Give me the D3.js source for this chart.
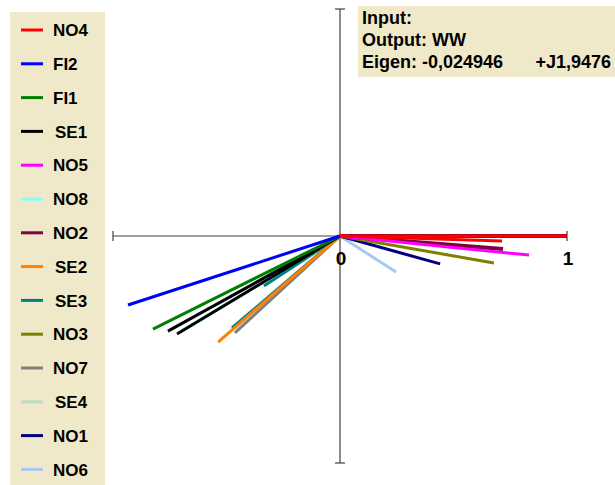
<!DOCTYPE html>
<html>
<head>
<meta charset="utf-8">
<script src="https://cdn.jsdelivr.net/npm/d3@7"></script>
<style>
  body { margin: 0; background: #fff; }
  text { font-family: "Liberation Sans", Arial, sans-serif; font-weight: bold; }
</style>
</head>
<body>
<script>
const width = 615;
const height = 485;

// series names and colours, legend order
const names = ['NO4', 'FI2', 'FI1', 'SE1', 'NO5', 'NO8', 'NO2', 'SE2', 'SE3', 'NO3', 'NO7', 'SE4', 'NO1', 'NO6'];
const colors = ['#ff0000', '#0000ff', '#008000', '#000000', '#ff00ff', '#80ffff', '#800040',
  '#ff8000', '#008080', '#808000', '#808080', '#c0dcc0', '#000080', '#a6caf0'];

// vector end points (re, im) for each series
const vectors = [
  [[1.0, 0.0], [0.714, -0.022]],          // NO4
  [[-0.934, -0.304]],                     // FI2
  [[-0.824, -0.410]],                     // FI1
  [[-0.758, -0.419], [-0.718, -0.432]],   // SE1
  [[0.833, -0.084]],                      // NO5
  [[-0.705, -0.422]],                     // NO8
  [[1.0, 0.0], [0.718, -0.057]],          // NO2
  [[-0.537, -0.467]],                     // SE2
  [[-0.335, -0.220], [-0.476, -0.405]],   // SE3
  [[0.678, -0.119]],                      // NO3
  [[-0.463, -0.427]],                     // NO7
  [[-0.455, -0.415]],                     // SE4
  [[0.441, -0.123]],                      // NO1
  [[0.247, -0.159]]                       // NO6
];

const xTicks = ['0', '1'];
const infoLines = ['Input:', 'Output: WW', 'Eigen: -0,024946'];
const infoImag = '+J1,9476';

const svg = d3.select('body').append('svg')
  .attr('width', width)
  .attr('height', height);

const x = d3.scaleLinear().domain([-1, 1]).range([113, 567]);
const y = d3.scaleLinear().domain([-1, 1]).range([463, 9]);

// legend panel
svg.append('rect')
  .attr('x', 10).attr('y', 12)
  .attr('width', 95).attr('height', 480)
  .attr('fill', '#f0e9c9');

const legend = svg.append('g').selectAll('g')
  .data(names)
  .enter().append('g')
    .attr('transform', (d, i) => `translate(0, ${30 + i * 33.8})`);

legend.append('line')
  .attr('x1', 21).attr('x2', 43)
  .attr('stroke', (d, i) => colors[i])
  .attr('stroke-width', 3);

legend.append('text')
  .attr('x', d => d.startsWith('SE') ? 55 : 53)
  .attr('dy', '0.36em')
  .attr('font-size', 17)
  .attr('fill', '#000')
  .text(d => d);

// info panel
svg.append('rect')
  .attr('x', 358).attr('y', 6)
  .attr('width', 257).attr('height', 71)
  .attr('fill', '#f0e9c9');

svg.append('g').selectAll('text')
  .data(infoLines)
  .enter().append('text')
    .attr('x', 362)
    .attr('y', (d, i) => 24 + i * 22)
    .attr('font-size', 18)
    .text(d => d);

svg.append('text')
  .attr('x', 611).attr('y', 68)
  .attr('text-anchor', 'end')
  .attr('font-size', 18)
  .text(infoImag);

// axes
const axisColor = '#404040';
const axes = svg.append('g')
  .attr('stroke', axisColor)
  .attr('stroke-width', 1.2);

axes.append('line')
  .attr('x1', x(-1)).attr('x2', x(1))
  .attr('y1', y(0)).attr('y2', y(0));
axes.append('line')
  .attr('x1', x(0)).attr('x2', x(0))
  .attr('y1', y(1)).attr('y2', y(-1));

[-1, 1].forEach(v => {
  axes.append('line')
    .attr('x1', x(v)).attr('x2', x(v))
    .attr('y1', y(0) - 5).attr('y2', y(0) + 5);
  axes.append('line')
    .attr('x1', x(0) - 5).attr('x2', x(0) + 5)
    .attr('y1', y(v)).attr('y2', y(v));
});

svg.append('g').selectAll('text')
  .data(xTicks)
  .enter().append('text')
    .attr('x', d => x(+d) + 1)
    .attr('y', y(0) + 29)
    .attr('text-anchor', 'middle')
    .attr('font-size', 19)
    .text(d => d);

// vectors, drawn bottom legend entry first
const segs = [];
vectors.forEach((vs, i) => vs.forEach(v => segs.push({ i, re: v[0], im: v[1] })));
segs.sort((a, b) => b.i - a.i);

svg.append('g').selectAll('line')
  .data(segs)
  .enter().append('line')
    .attr('x1', x(0)).attr('y1', y(0))
    .attr('x2', d => x(d.re)).attr('y2', d => y(d.im))
    .attr('stroke', d => colors[d.i])
    .attr('stroke-width', d => names[d.i] === 'NO2' ? 4 : 3);
</script>
</body>
</html>
